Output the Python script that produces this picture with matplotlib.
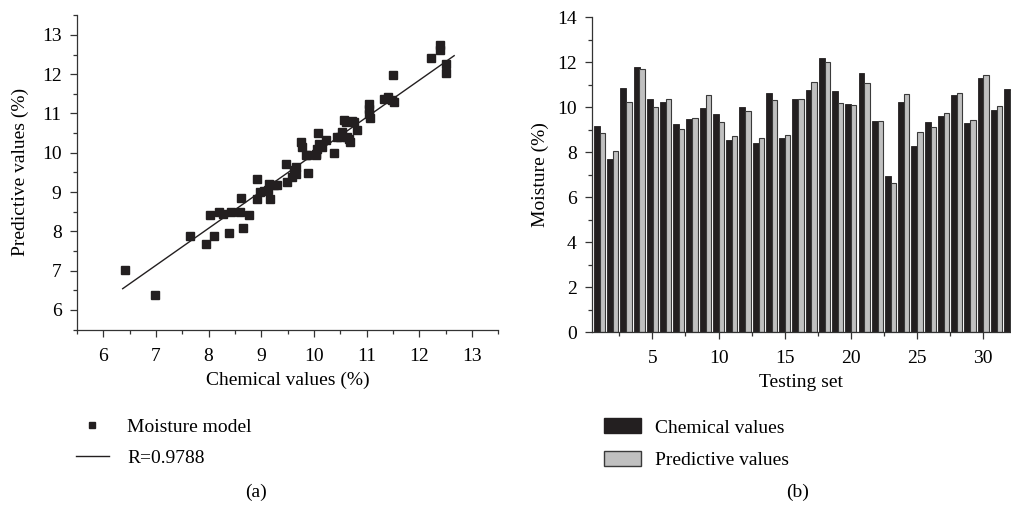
import matplotlib
matplotlib.use('Agg')

import matplotlib.pyplot as plt
from matplotlib.lines import Line2D
from matplotlib.patches import Patch
from matplotlib.ticker import MultipleLocator
import numpy as np

# (a) chemical vs predictive moisture values (%)
chem_x = [6.41, 6.99, 7.64, 7.95, 8.10, 8.38, 8.66, 8.02, 8.19, 8.27, 8.43, 8.59,
          8.77, 8.61, 8.91, 9.16, 8.91, 8.98, 9.06, 9.14, 9.24, 9.30, 9.12, 9.49,
          9.46, 9.62, 9.65, 9.59, 9.65, 9.88, 9.76, 9.78, 9.86, 10.03, 10.07, 10.09,
          10.22, 10.38, 10.44, 10.54, 10.66, 10.69, 10.82, 10.60, 10.72, 12.40, 12.39,
          12.22, 12.51, 12.51, 11.50, 11.32, 11.40, 11.48, 11.51, 11.04, 11.04, 11.05,
          11.06, 10.57, 10.76, 10.50, 10.63, 10.06, 10.16, 9.84, 10.03]
pred_y = [7.01, 6.37, 7.87, 7.67, 7.89, 7.95, 8.08, 8.42, 8.49, 8.45, 8.48, 8.50,
          8.42, 8.86, 8.82, 8.82, 9.33, 9.00, 9.03, 9.21, 9.17, 9.17, 9.04, 9.25,
          9.72, 9.57, 9.64, 9.38, 9.46, 9.49, 10.27, 10.14, 9.93, 9.97, 10.50, 10.23,
          10.33, 10.00, 10.40, 10.52, 10.35, 10.27, 10.57, 10.78, 10.82, 12.75, 12.61,
          12.42, 12.27, 12.04, 11.98, 11.37, 11.41, 11.35, 11.28, 11.24, 11.12, 10.99,
          10.88, 10.84, 10.78, 10.40, 10.40, 10.10, 10.14, 9.93, 9.93]
# regression line as drawn in the figure (ends)
fit_x = [6.37, 12.66]
fit_y = [6.54, 12.47]
r_value = 0.9788

# (b) testing set
test_idx = np.arange(1, 33)
chem_vals = [9.18, 7.69, 10.87, 11.80, 10.37, 10.23, 9.25, 9.48, 9.97, 9.71,
             8.53, 10.03, 8.40, 10.63, 8.64, 10.37, 10.78, 12.20, 10.73, 10.14,
             11.50, 9.38, 6.94, 10.21, 8.28, 9.32, 9.63, 10.55, 9.30, 11.30,
             9.87, 10.81]
pred_vals = [8.87, 8.03, 10.23, 11.70, 10.00, 10.36, 9.04, 9.51, 10.52, 9.32,
             8.71, 9.83, 8.65, 10.32, 8.78, 10.37, 11.12, 12.02, 10.18, 10.08,
             11.06, 9.39, 6.63, 10.58, 8.89, 9.11, 9.73, 10.63, 9.44, 11.43,
             10.05, 10.70]

plt.rcParams['font.family'] = ['Liberation Serif', 'DejaVu Serif']
plt.rcParams['font.size'] = 14

dark = '#231f20'
grey = '#c0c0c0'

fig = plt.figure(figsize=(10.11, 5.07), dpi=100)

# ---- (a) scatter
ax1 = fig.add_axes([0.076, 0.35, 0.417, 0.62])
ax1.plot(chem_x, pred_y, 's', color=dark, markersize=6, linestyle='none')
ax1.plot(fit_x, fit_y, color=dark, linewidth=1.0)
ax1.set_xlim(5.5, 13.5)
ax1.set_ylim(5.5, 13.5)
ax1.xaxis.set_major_locator(MultipleLocator(1))
ax1.xaxis.set_minor_locator(MultipleLocator(0.5))
ax1.yaxis.set_major_locator(MultipleLocator(1))
ax1.yaxis.set_minor_locator(MultipleLocator(0.5))
ax1.set_xlabel('Chemical values (%)', labelpad=5)
ax1.set_ylabel('Predictive values (%)', labelpad=9)

# ---- (b) bars
ax2 = fig.add_axes([0.5855, 0.345, 0.4145, 0.621])
ax2.bar(test_idx - 0.2, chem_vals, width=0.45, color=dark, edgecolor=dark, linewidth=0.6)
ax2.bar(test_idx + 0.22, pred_vals, width=0.40, color=grey, edgecolor='#3a3a3a', linewidth=0.8)
ax2.set_xlim(0.43, 32.1)
ax2.set_ylim(0, 14)
ax2.xaxis.set_major_locator(MultipleLocator(5))
ax2.xaxis.set_minor_locator(MultipleLocator(2.5))
ax2.yaxis.set_major_locator(MultipleLocator(2))
ax2.yaxis.set_minor_locator(MultipleLocator(1))
ax2.set_xlabel('Testing set', labelpad=5)
ax2.set_ylabel('Moisture (%)', labelpad=6)

for ax in (ax1, ax2):
    for s in ('top', 'right'):
        ax.spines[s].set_visible(False)
    for s in ('left', 'bottom'):
        ax.spines[s].set_color('#333333')
        ax.spines[s].set_linewidth(0.9)
    ax.tick_params(which='major', direction='out', length=5, width=0.9,
                   color='#333333', pad=6)
    ax.tick_params(which='minor', direction='out', length=3, width=0.9, color='#333333')
    ax.tick_params(axis='x', which='major', pad=8)

# legends below each panel
h1 = [Line2D([], [], marker='s', color=dark, linestyle='none', markersize=5),
      Line2D([], [], color=dark, linewidth=1.0)]
fig.legend(h1, ['Moisture model', 'R=%.4f' % r_value], loc='upper left',
           bbox_to_anchor=(0.067, 0.19), frameon=False, handlelength=1.7,
           handletextpad=0.95, labelspacing=0.7, borderaxespad=0)
h2 = [Patch(facecolor=dark, edgecolor=dark),
      Patch(facecolor=grey, edgecolor='#3a3a3a')]
fig.legend(h2, ['Chemical values', 'Predictive values'], loc='upper left',
           bbox_to_anchor=(0.590, 0.19), frameon=False, handlelength=1.9,
           handleheight=0.8, handletextpad=0.7, labelspacing=0.75, borderaxespad=0)

fig.text(0.253, 0.028, '(a)', ha='center', va='center')
fig.text(0.789, 0.028, '(b)', ha='center', va='center')

fig.savefig('out.png', dpi=100)
